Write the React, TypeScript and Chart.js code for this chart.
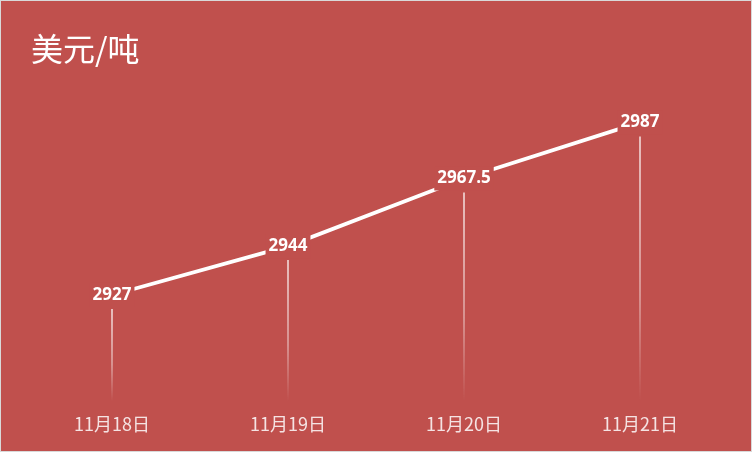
import React, { useEffect, useRef } from "react";
import { Chart, registerables } from "chart.js";

Chart.register(...registerables);

const TITLE = "美元/吨";
const categories = ["11月18日", "11月19日", "11月20日", "11月21日"];
const prices = [2927, 2944, 2967.5, 2987];
const priceLabels = ["2927", "2944", "2967.5", "2987"];
const yMin = 2890;
const yMax = 3000;

const BG = "#C0504D";

const decoPlugin = {
  id: "deco",
  beforeDatasetsDraw(chart: any) {
    const { ctx, chartArea } = chart;
    const meta = chart.getDatasetMeta(0);
    ctx.save();
    meta.data.forEach((pt: any) => {
      const top = pt.y + 14;
      const bottom = chartArea.bottom;
      const g = ctx.createLinearGradient(0, top, 0, bottom);
      g.addColorStop(0, "rgba(255,255,255,0.85)");
      g.addColorStop(0.6, "rgba(255,255,255,0.5)");
      g.addColorStop(1, "rgba(255,255,255,0)");
      ctx.strokeStyle = g;
      ctx.lineWidth = 1.5;
      ctx.beginPath();
      ctx.moveTo(pt.x, top);
      ctx.lineTo(pt.x, bottom);
      ctx.stroke();
    });
    ctx.restore();
  },
  afterDatasetsDraw(chart: any) {
    const { ctx } = chart;
    const meta = chart.getDatasetMeta(0);
    ctx.save();
    ctx.font = "bold 17px 'Open Sans', 'DejaVu Sans', sans-serif";
    ctx.textAlign = "center";
    ctx.textBaseline = "middle";
    meta.data.forEach((pt: any, i: number) => {
      const txt = priceLabels[i];
      const w = ctx.measureText(txt).width;
      ctx.fillStyle = BG;
      ctx.fillRect(pt.x - w / 2 - 3, pt.y - 12, w + 6, 24);
      ctx.fillStyle = "#ffffff";
      ctx.fillText(txt, pt.x, pt.y);
    });
    ctx.font = "32px 'Noto Sans CJK SC', sans-serif";
    ctx.textAlign = "left";
    ctx.fillText(TITLE, 30, 48);
    ctx.restore();
  },
};

export default function App() {
  const ref = useRef<HTMLCanvasElement>(null);
  useEffect(() => {
    if (!ref.current) return;
    const chart = new Chart(ref.current, {
      type: "line",
      data: {
        labels: categories,
        datasets: [
          {
            data: prices,
            borderColor: "#ffffff",
            borderWidth: 3.8,
            pointRadius: 0,
            tension: 0,
            fill: false,
          },
        ],
      },
      options: {
        animation: false,
        responsive: false,
        maintainAspectRatio: false,
        layout: { padding: { left: 23, right: 23, top: 84, bottom: 4 } },
        plugins: { legend: { display: false }, title: { display: false }, tooltip: { enabled: false } },
        scales: {
          x: {
            offset: true,
            grid: { display: false, drawTicks: false },
            border: { display: false },
            ticks: {
              color: "#F5E3E3",
              padding: 12,
              font: { family: "'Noto Sans CJK SC', sans-serif", size: 18, lineHeight: 1.2 },
            },
          },
          y: { display: false, min: yMin, max: yMax },
        },
      },
      plugins: [decoPlugin],
    });
    return () => chart.destroy();
  }, []);
  return (
    <div
      style={{
        position: "absolute",
        left: 0,
        top: 0,
        width: 752,
        height: 452,
        boxSizing: "border-box",
        border: "1px solid #D9D9D9",
        background: BG,
      }}
    >
      <canvas ref={ref} width={750} height={450} style={{ display: "block", width: 750, height: 450 }} />
    </div>
  );
}
